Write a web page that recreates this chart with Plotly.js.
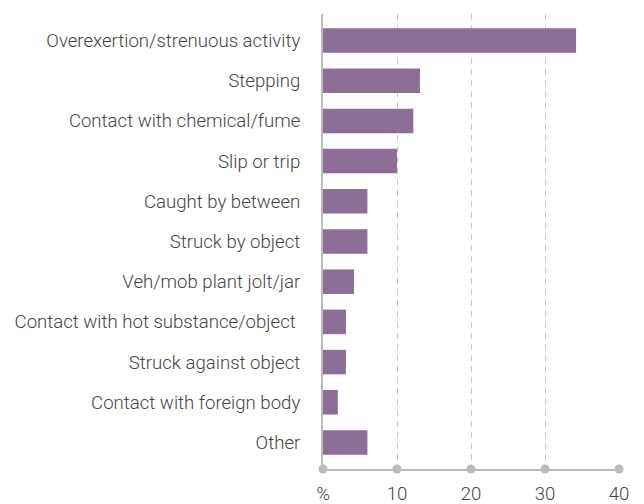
<!DOCTYPE html>
<html><head><meta charset="utf-8">
<script src="https://cdn.plot.ly/plotly-3.0.1.min.js"></script>
<style>body{margin:0;background:#fff}#c{width:644px;height:504px}</style>
</head><body><div id="c"></div>
<script>
var categories = ["Overexertion/strenuous activity","Stepping","Contact with chemical/fume","Slip or trip","Caught by between","Struck by object","Veh/mob plant jolt/jar","Contact with hot substance/object ","Struck against object","Contact with foreign body","Other"];
var values = [34.2, 13.1, 12.2, 10.0, 6.0, 6.0, 4.2, 3.1, 3.1, 2.0, 6.0];
var tickVals = [0, 10, 20, 30, 40];
var tickText = ["%", "10", "20", "30", "40"];
var dotY = tickVals.map(function(){return 0;});

var font = {family: "Roboto, sans-serif", size: 18.6, color: "#444", weight: 300};
var data = [
  {type: "bar", orientation: "h", x: values, y: categories, width: 0.61,
   marker: {color: "#8c6e97"}, hoverinfo: "x+y"},
  {type: "scatter", mode: "markers", x: tickVals, y: dotY, yaxis: "y2",
   marker: {color: "#bbbbbb", size: 9}, cliponaxis: false, hoverinfo: "skip", showlegend: false}
];
var layout = {
  width: 644, height: 504, showlegend: false,
  margin: {l: 323, r: 25, t: 14, b: 35},
  paper_bgcolor: "#fff", plot_bgcolor: "#fff",
  font: font,
  xaxis: {range: [0, 40], tickvals: tickVals, ticktext: tickText, showgrid: true,
    gridcolor: "#c8c8c8", griddash: "6px,5px", gridwidth: 1, zeroline: false,
    showline: true, linecolor: "#bbbbbb", linewidth: 2, ticks: "", ticklabelstandoff: 7,
    tickfont: font, fixedrange: true},
  yaxis: {type: "category", range: [10.66, -0.66], showgrid: false, zeroline: false,
    showline: true, linecolor: "#bbbbbb", linewidth: 2, ticks: "", ticklabelstandoff: 17,
    tickfont: font, fixedrange: true},
  yaxis2: {overlaying: "y", range: [0, 1], visible: false, fixedrange: true}
};
Plotly.newPlot("c", data, layout, {displayModeBar: false, staticPlot: true});
</script></body></html>
